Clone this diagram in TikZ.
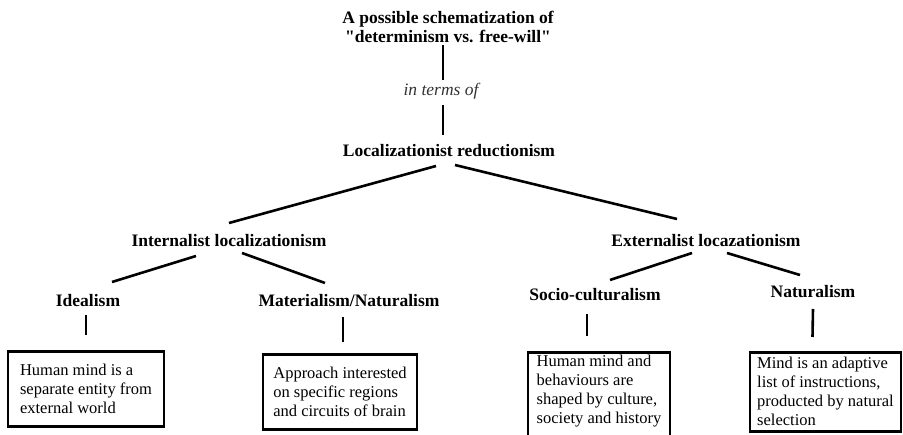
\documentclass[tikz,border=0pt]{standalone}
\usepackage{fontspec}
\setmainfont{Liberation Serif}
\usepackage{xcolor}
\usetikzlibrary{positioning}

\tikzset{
  head/.style={font=\fontsize{17.5}{19.5}\selectfont\bfseries, align=center, inner sep=0pt},
  link/.style={line width=2.6pt},
  leafbox/.style={draw, line width=2.6pt, align=left, anchor=north, inner xsep=5pt, inner ysep=3pt,
    font=\fontsize{16.5}{19}\selectfont},
}

\begin{document}
\begin{tikzpicture}[x=1pt,y=-1pt]
            \useasboundingbox (0,0) rectangle (903,435);

            % levels of the tree
            \node[head] (title) at (448,27) {A possible schematization of\\\textquotedbl determinism vs. free-will\textquotedbl};
            \node[font=\fontsize{17.5}{19}\selectfont\itshape, text=black!80, inner sep=0pt] (terms) at (441,91) {in terms of};
            \node[head] (loc) at (449,151) {Localizationist reductionism};

            \node[head] (intl) at (229,241) {Internalist localizationism};
            \node[head] (extl) at (706,241) {Externalist locazationism};

            \node[head] (ideal) at (88,301) {Idealism};
            \node[head] (mater) at (349,301) {Materialism/Naturalism};
            \node[head] (socio) at (595,295) {Socio-culturalism};
            \node[head] (natur) at (813,292) {Naturalism};

            % boxes
            \node[leafbox, minimum width=156pt, minimum height=75pt] (idealbox) at (86,350)
              {Human mind is a\\separate entity from\\external world};
            \node[leafbox, minimum width=154pt, minimum height=75pt] (materbox) at (340,353)
              {Approach interested\\on specific regions\\and circuits of brain};
            \node[leafbox, minimum width=142pt, minimum height=95pt] (sociobox) at (599,351)
              {Human mind and\\behaviours are\\shaped by culture,\\society and history\\[6pt]};
            \node[leafbox, minimum width=151pt, minimum height=79pt] (naturbox) at (825.5,351)
              {Mind is an adaptive\\list of instructions,\\producted by natural\\selection};

            % connectors
            \draw[link] ([shift={(-5,18)}]title.center) -- ([shift={(2,-11)}]terms.center);
            \draw[link] ([shift={(2,14)}]terms.center) -- ([shift={(-6,-16)}]loc.center);
            \draw[link] ([shift={(-13,15)}]loc.center) -- ([shift={(0,-18)}]intl.center);
            \draw[link] ([shift={(6,14)}]loc.center) -- ([shift={(-29,-22)}]extl.center);

            \draw[link] ([shift={(-33,15)}]intl.center) -- ([shift={(24,-19)}]ideal.center);
            \draw[link] ([shift={(13,12)}]intl.center) -- ([shift={(-24,-18)}]mater.center);
            \draw[link] ([shift={(-14,12)}]extl.center) -- ([shift={(15,-15)}]socio.center);
            \draw[link] ([shift={(21,12)}]extl.center) -- ([shift={(-13,-17)}]natur.center);

            \draw[link] ([shift={(-2,14)}]ideal.center) -- ([shift={(0,-15)}]idealbox.north);
            \draw[link] ([shift={(-6,16)}]mater.center) -- ([shift={(3,-11)}]materbox.north);
            \draw[link] ([shift={(-8,19)}]socio.center) -- ([shift={(-12,-15)}]sociobox.north);
            \draw[link] ([shift={(0,17)}]natur.center) -- ([shift={(-13,-14)}]naturbox.north);
        \end{tikzpicture}
\end{document}
